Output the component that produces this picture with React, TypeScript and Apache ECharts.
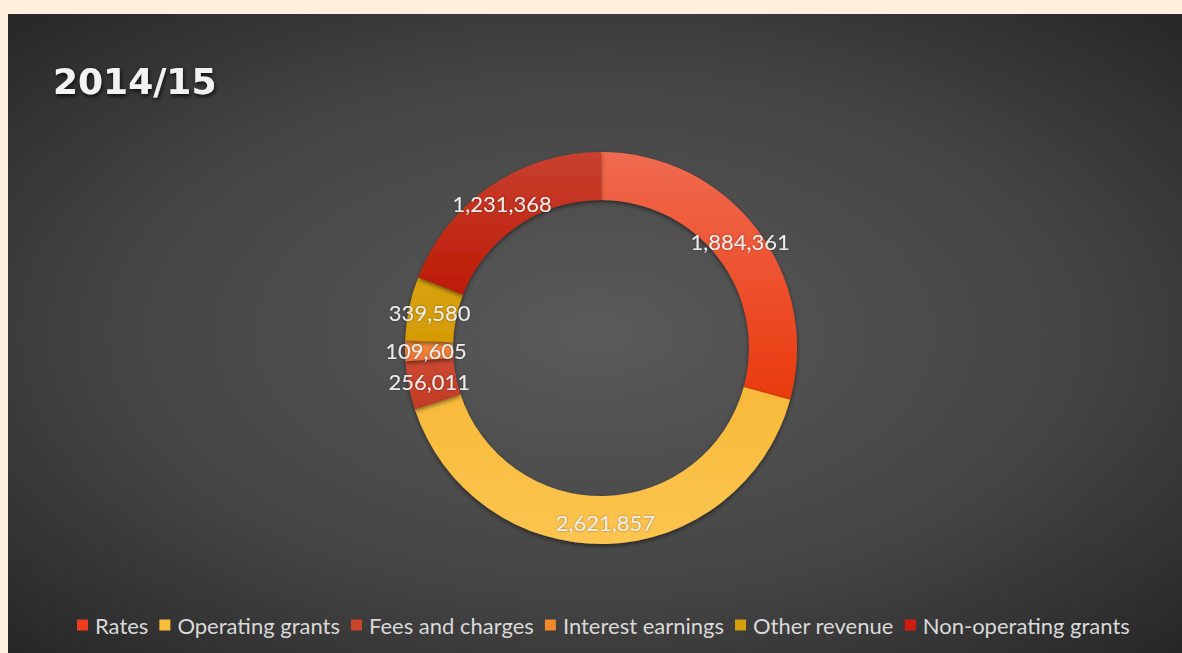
import React, { useEffect, useRef } from "react";
import * as echarts from "echarts";

const title = "2014/15";
const categories = [
  "Rates",
  "Operating grants",
  "Fees and charges",
  "Interest earnings",
  "Other revenue",
  "Non-operating grants",
];
const values = [1884361, 2621857, 256011, 109605, 339580, 1231368];
const legendColors = ["#ee3c1e", "#f9bd3a", "#c8442c", "#f08a2a", "#d4a00c", "#d01c10"];
const sliceStops: [string, string][] = [
  ["#f06a50", "#ea3a0e"],
  ["#f7b939", "#fcc550"],
  ["#cc4a32", "#c23a24"],
  ["#f4923a", "#ea6f38"],
  ["#d9a312", "#d49a04"],
  ["#c8402e", "#bd1a06"],
];

export default function App() {
  const ref = useRef<HTMLDivElement>(null);
  useEffect(() => {
    if (!ref.current) return;
    const chart = echarts.init(ref.current, undefined, { renderer: "svg" });
    const data = categories.map((name, i) => ({
      name,
      value: values[i],
      itemStyle: {
        color: new echarts.graphic.LinearGradient(0, 0, 0, 1, [
          { offset: 0, color: sliceStops[i][0] },
          { offset: 1, color: sliceStops[i][1] },
        ]),
      },
    }));
    chart.setOption({
      animation: false,
      backgroundColor: new echarts.graphic.RadialGradient(0.5, 0.5, 0.75, [
        { offset: 0, color: "#5a5a5a" },
        { offset: 0.55, color: "#444444" },
        { offset: 1, color: "#222222" },
      ]),
      title: {
        text: title,
        left: 40,
        top: 44,
        textStyle: {
          color: "#f2f2f2",
          fontFamily: "DejaVu Sans",
          fontWeight: "bold",
          fontSize: 36,
          textShadowColor: "rgba(0,0,0,0.8)",
          textShadowBlur: 4,
          textShadowOffsetX: 1,
          textShadowOffsetY: 2,
        },
      },
      legend: {
        bottom: 12,
        left: 64,
        itemWidth: 11,
        itemHeight: 11,
        itemGap: 11,
        icon: "rect",
        data: categories.map((name, i) => ({
          name,
          itemStyle: { color: legendColors[i] },
        })),
        textStyle: {
          color: "#d9d9d9",
          fontFamily: "Lato",
          fontSize: 22,
          padding: [0, 0, 0, 2],
        },
      },
      series: [
        {
          type: "pie",
          center: [593, 334],
          radius: [148, 196],
          startAngle: 90,
          clockwise: true,
          avoidLabelOverlap: false,
          data,
          label: {
            show: true,
            position: "inside",
            formatter: (p: any) => p.value.toLocaleString("en-US"),
            color: "#ececec",
            fontFamily: "Lato",
            fontSize: 22,
            textShadowColor: "rgba(0,0,0,0.4)",
            textShadowBlur: 2,
          },
          labelLine: { show: false },
          itemStyle: {
            shadowColor: "rgba(0,0,0,0.5)",
            shadowBlur: 4,
            shadowOffsetY: 2,
          },
          emphasis: { disabled: true },
        },
      ],
    });
    return () => chart.dispose();
  }, []);
  return (
    <div style={{ position: "fixed", left: 0, top: 0, width: 1182, height: 653, background: "#fef0dc" }}>
      <div ref={ref} style={{ position: "absolute", left: 8, top: 14, width: 1174, height: 639 }} />
    </div>
  );
}
